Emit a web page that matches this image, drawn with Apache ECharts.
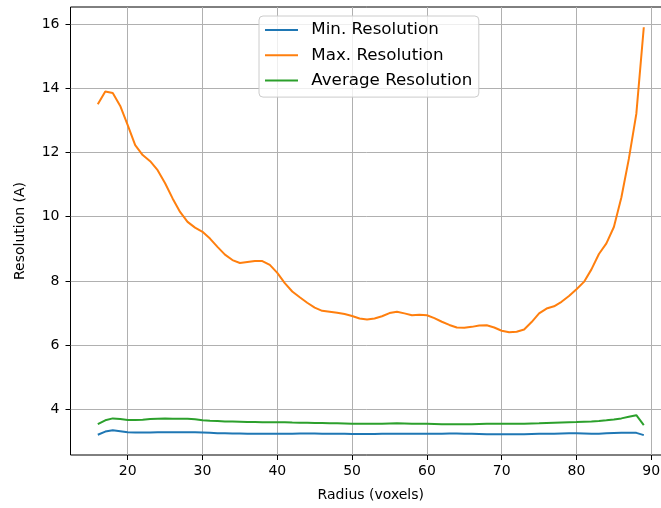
<!DOCTYPE html>
<html>
<head>
<meta charset="utf-8">
<script src="https://cdn.jsdelivr.net/npm/echarts@6/dist/echarts.min.js"></script>
<style>
html,body{margin:0;padding:0;background:#fff;overflow:hidden;}
#chart{width:661px;height:508px;}
</style>
</head>
<body>
<div id="chart"></div>
<script>
var radius = [16,17,18,19,20,21,22,23,24,25,26,27,28,29,30,31,32,33,34,35,36,37,38,39,40,41,42,43,44,45,46,47,48,49,50,51,52,53,54,55,56,57,58,59,60,61,62,63,64,65,66,67,68,69,70,71,72,73,74,75,76,77,78,79,80,81,82,83,84,85,86,87,88,89];

var minRes = [3.21,3.31,3.35,3.32,3.29,3.28,3.28,3.28,3.285,3.29,3.29,3.29,3.29,3.285,3.28,3.27,3.26,3.255,3.25,3.25,3.245,3.245,3.24,3.24,3.24,3.24,3.245,3.25,3.25,3.25,3.245,3.24,3.24,3.24,3.235,3.235,3.235,3.235,3.24,3.24,3.245,3.245,3.24,3.24,3.24,3.24,3.245,3.25,3.25,3.245,3.24,3.235,3.23,3.23,3.23,3.23,3.23,3.23,3.235,3.24,3.24,3.245,3.25,3.255,3.255,3.25,3.245,3.245,3.255,3.265,3.27,3.275,3.27,3.20];

var maxRes = [13.50,13.90,13.85,13.45,12.85,12.23,11.92,11.73,11.45,11.04,10.57,10.15,9.84,9.66,9.53,9.32,9.06,8.82,8.65,8.56,8.59,8.62,8.62,8.50,8.25,7.93,7.67,7.49,7.32,7.17,7.07,7.04,7.01,6.97,6.91,6.83,6.80,6.83,6.90,7.00,7.04,6.99,6.93,6.95,6.93,6.84,6.73,6.63,6.55,6.54,6.57,6.61,6.62,6.55,6.45,6.40,6.42,6.49,6.72,6.99,7.14,7.21,7.35,7.53,7.74,7.97,8.36,8.84,9.17,9.68,10.60,11.80,13.20,15.90];

var avgRes = [3.54,3.66,3.72,3.70,3.67,3.67,3.68,3.70,3.71,3.72,3.71,3.71,3.71,3.69,3.66,3.645,3.635,3.625,3.62,3.615,3.61,3.605,3.60,3.60,3.60,3.60,3.59,3.585,3.585,3.58,3.575,3.57,3.565,3.56,3.555,3.55,3.55,3.55,3.555,3.56,3.565,3.56,3.555,3.55,3.55,3.545,3.54,3.54,3.535,3.535,3.54,3.545,3.55,3.55,3.55,3.55,3.55,3.555,3.56,3.565,3.575,3.585,3.595,3.60,3.605,3.615,3.625,3.64,3.66,3.685,3.72,3.77,3.82,3.51];

var xTicks = [20,30,40,50,60,70,80,90];
var yTicks = [4,6,8,10,12,14,16];
var seriesNames = ['Min. Resolution','Max. Resolution','Average Resolution'];
var colors = ['#1f77b4','#ff7f0e','#2ca02c'];

function pairs(ys){ return radius.map(function(x,i){ return [x, ys[i]]; }); }

var font = 'DejaVu Sans';
var chart = echarts.init(document.getElementById('chart'), null, {renderer:'canvas'});
chart.setOption({
  animation: false,
  backgroundColor: '#fff',
  grid: {left: 70.5, top: 7, width: 600.6, bottom: 53, outerBoundsMode: 'none', containLabel: false,
         show: true, borderColor: '#000', borderWidth: 1, backgroundColor: 'transparent'},
  legend: {
    orient: 'vertical', left: 259, top: 16,
    padding: [4.5, 6.5, 7, 6],
    itemWidth: 33, itemHeight: 2, itemGap: 6.3,
    icon: 'rect',
    backgroundColor: 'rgba(255,255,255,0.8)',
    borderColor: '#cccccc', borderWidth: 1, borderRadius: 4,
    textStyle: {fontFamily: font, fontSize: 16.7, color: '#000', lineHeight: 19, padding: [0,0,0,8.3]},
    data: seriesNames
  },
  xAxis: {
    type: 'value', min: 12.35, max: 92.65,
    name: 'Radius (voxels)', nameLocation: 'middle', nameGap: 33,
    nameTextStyle: {fontFamily: font, fontSize: 14, color: '#000'},
    axisLine: {show: false},
    axisTick: {show: true, length: 5, lineStyle: {color: '#000', width: 1}, customValues: xTicks},
    axisLabel: {fontFamily: font, fontSize: 14, color: '#000', margin: 9, customValues: xTicks},
    splitLine: {show: true, lineStyle: {color: '#b0b0b0', width: 1}}
  },
  yAxis: {
    type: 'value', min: 2.58, max: 16.53,
    name: 'Resolution (A)', nameLocation: 'middle', nameGap: 43, nameRotate: 90,
    nameTextStyle: {fontFamily: font, fontSize: 14, color: '#000'},
    axisLine: {show: false},
    axisTick: {show: true, length: 5, lineStyle: {color: '#000', width: 1}, customValues: yTicks},
    axisLabel: {fontFamily: font, fontSize: 14, color: '#000', margin: 11, customValues: yTicks},
    splitLine: {show: true, lineStyle: {color: '#b0b0b0', width: 1}}
  },
  series: [
    {name: seriesNames[0], type: 'line', data: pairs(minRes), symbol: 'none', lineStyle: {width: 2, color: colors[0]}, itemStyle: {color: colors[0]}},
    {name: seriesNames[1], type: 'line', data: pairs(maxRes), symbol: 'none', lineStyle: {width: 2, color: colors[1]}, itemStyle: {color: colors[1]}},
    {name: seriesNames[2], type: 'line', data: pairs(avgRes), symbol: 'none', lineStyle: {width: 2, color: colors[2]}, itemStyle: {color: colors[2]}}
  ]
});
</script>
</body>
</html>
